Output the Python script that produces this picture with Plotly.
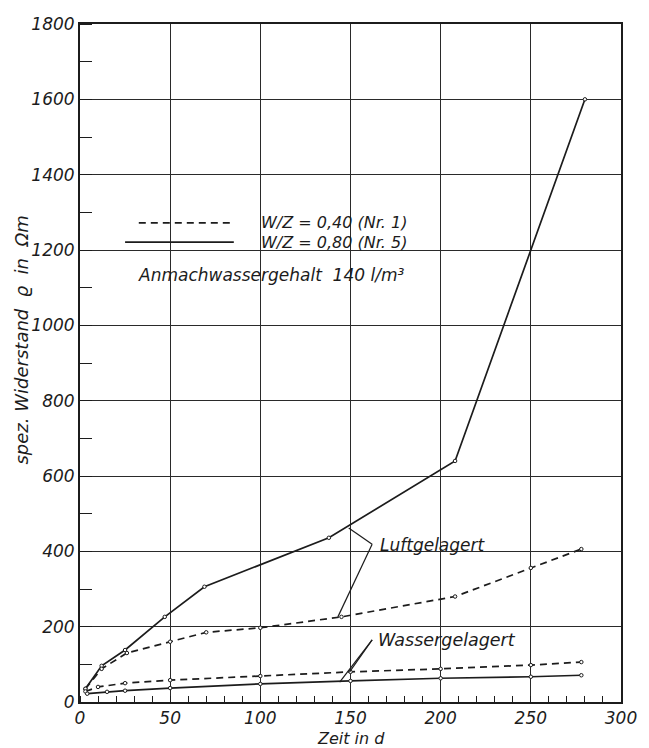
import plotly.graph_objects as go

# Specific resistance of concrete over time (days)
luft_080_x = [3, 12, 25, 47, 69, 138, 208, 280]
luft_080_y = [35, 96, 138, 226, 306, 436, 640, 1600]

luft_040_x = [3, 12, 26, 50, 70, 100, 145, 208, 250, 278]
luft_040_y = [35, 88, 130, 160, 185, 197, 226, 280, 356, 406]

wasser_040_x = [3, 10, 25, 50, 100, 150, 200, 250, 278]
wasser_040_y = [28, 40, 50, 58, 69, 80, 88, 98, 106]

wasser_080_x = [4, 15, 25, 50, 100, 150, 200, 250, 278]
wasser_080_y = [22, 27, 30, 37, 48, 56, 63, 67, 71]

x_ticks = [0, 50, 100, 150, 200, 250, 300]
y_ticks = [0, 200, 400, 600, 800, 1000, 1200, 1400, 1600, 1800]

INK = "#1c1c1c"
FONT = "DejaVu Sans"
DASH = "7px,5px"

fig = go.Figure()

def add_series(xs, ys, dash, name):
    fig.add_trace(go.Scatter(
        x=xs, y=ys, mode="lines+markers", name=name,
        line=dict(color=INK, width=1.7, dash=dash),
        marker=dict(size=3.5, color="white", line=dict(color=INK, width=1)),
        showlegend=False,
    ))

add_series(luft_080_x, luft_080_y, "solid", "W/Z = 0,80 luftgelagert")
add_series(luft_040_x, luft_040_y, DASH, "W/Z = 0,40 luftgelagert")
add_series(wasser_040_x, wasser_040_y, DASH, "W/Z = 0,40 wassergelagert")
add_series(wasser_080_x, wasser_080_y, "solid", "W/Z = 0,80 wassergelagert")

# Key: sample line segments with their labels
fig.add_shape(type="line", x0=32.6, x1=85.3, y0=1272, y1=1272,
              line=dict(color=INK, width=1.6, dash=DASH))
fig.add_shape(type="line", x0=25, x1=85.3, y0=1221, y1=1221,
              line=dict(color=INK, width=1.6))

txt = dict(family=FONT, size=16, color=INK, style="italic")
fig.add_annotation(x=99, y=1272, text="W/Z = 0,40 (Nr. 1)", showarrow=False,
                   xanchor="left", yanchor="middle", font=txt)
fig.add_annotation(x=99, y=1221, text="W/Z = 0,80 (Nr. 5)", showarrow=False,
                   xanchor="left", yanchor="middle", font=txt)
fig.add_annotation(x=31, y=1134, text="Anmachwassergehalt  140 l/m³", showarrow=False,
                   xanchor="left", yanchor="middle", font=dict(txt, size=17))

# Group labels with leader lines
fig.add_annotation(x=165.5, y=417, text="Luftgelagert", showarrow=False,
                   xanchor="left", yanchor="middle", font=dict(txt, size=17))
for (x0, y0) in [(149, 462), (143, 226)]:
    fig.add_shape(type="line", x0=162, y0=419, x1=x0, y1=y0,
                  line=dict(color=INK, width=1.2))

fig.add_annotation(x=164, y=165, text="Wassergelagert", showarrow=False,
                   xanchor="left", yanchor="middle", font=dict(txt, size=17.5))
for (x0, y0) in [(149.5, 80), (144, 53)]:
    fig.add_shape(type="line", x0=162, y0=165, x1=x0, y1=y0,
                  line=dict(color=INK, width=1.2))

# Axis titles
fig.add_annotation(x=0.5, xref="paper", y=-0.054, yref="paper",
                   text="Zeit in d", showarrow=False, yanchor="middle",
                   font=dict(family=FONT, size=16, color=INK, style="italic"))
fig.add_annotation(x=-0.108, xref="paper", xanchor="center", y=0.534, yref="paper",
                   yanchor="middle", text="spez. Widerstand  ϱ  in  Ωm",
                   showarrow=False, textangle=-90,
                   font=dict(family=FONT, size=18, color=INK, style="italic"))

axis_common = dict(
    showline=True, linecolor=INK, linewidth=2, mirror=True,
    showgrid=True, gridcolor="#2a2a2a", gridwidth=1.3,
    zeroline=False, ticks="",
    tickfont=dict(family=FONT, size=17, color=INK, style="italic"),
)

fig.update_xaxes(range=[0, 300], tickvals=x_ticks,
                 ticktext=[f"<i>{v}</i>" for v in x_ticks],
                 minor=dict(dtick=10, ticks="inside", ticklen=6, tickcolor=INK,
                            tickwidth=1.2, showgrid=False),
                 **axis_common)
fig.update_yaxes(range=[0, 1800], tickvals=y_ticks,
                 ticktext=[f"<i>{v}</i>" for v in y_ticks],
                 minor=dict(dtick=100, ticks="inside", ticklen=12, tickcolor=INK,
                            tickwidth=1.2, showgrid=False),
                 **axis_common)

fig.update_layout(
    width=649, height=748,
    margin=dict(l=80, r=17, t=24, b=46),
    plot_bgcolor="white", paper_bgcolor="white",
    showlegend=False,
)

fig.write_html("out.html")
